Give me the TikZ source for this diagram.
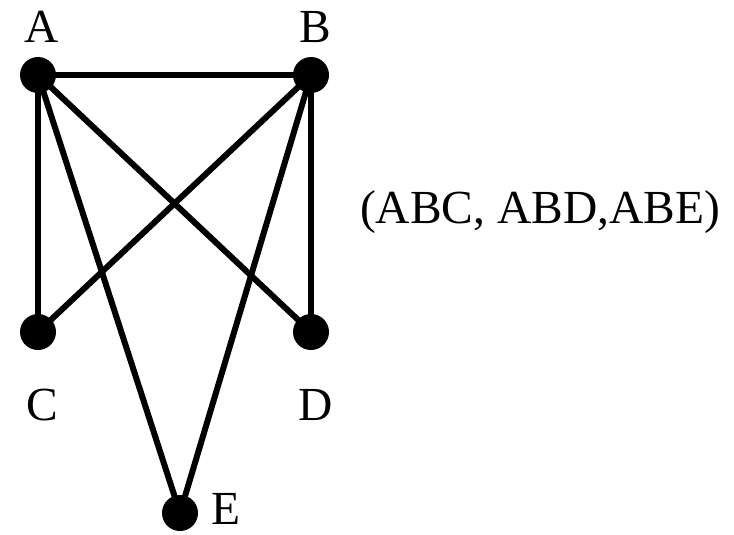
\documentclass[tikz,border=0pt]{standalone}
\usepackage{fontspec}
\setmainfont{Liberation Serif}
\usetikzlibrary{positioning}

\begin{document}
\begin{tikzpicture}[
  x=0.2mm, y=-0.2mm,
  vert/.style={circle, fill=black, inner sep=0pt, minimum size=7.2mm},
  edge/.style={line width=1.2mm},
  lab/.style={font=\fontsize{27}{32}\selectfont, inner sep=0pt}
]
\useasboundingbox (0,0) rectangle (734,534);
\node[vert] (A) at (38,75) {};
\node[vert] (B) at (311,75) {};
\node[vert] (C) at (38,332) {};
\node[vert] (D) at (311,332) {};
\node[vert] (E) at (180,513) {};
\node[lab] (la) at (42,27) {A};
\node[lab] (lb) at (315,27) {B};
\node[lab] (lc) at (42,405) {C};
\node[lab] (ld) at (316,405) {D};
\node[lab] (le) at (226,509) {E};
\node[lab] (sets) at (540,212) {(ABC, ABD,ABE)};
\draw[edge] (A.center) -- (B.center);
\draw[edge] (A.center) -- (C.center);
\draw[edge] (A.center) -- (D.center);
\draw[edge] (A.center) -- (E.center);
\draw[edge] (B.center) -- (C.center);
\draw[edge] (B.center) -- (D.center);
\draw[edge] (B.center) -- (E.center);
\end{tikzpicture}
\end{document}
